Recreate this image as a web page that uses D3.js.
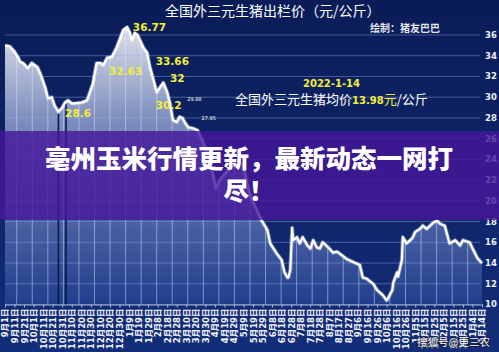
<!DOCTYPE html>
<html><head><meta charset="utf-8">
<script src="https://cdn.jsdelivr.net/npm/d3@7"></script>
<style>body{margin:0;background:#0c1f5c;}svg{display:block}</style>
</head><body><svg id="c" width="499" height="352"></svg>
<script>
// ---- data ----
const dates = ["2020-09-01","2020-09-06","2020-09-11","2020-09-15","2020-09-17","2020-09-20","2020-09-25","2020-09-29","2020-10-05","2020-10-08","2020-10-13","2020-10-16","2020-10-20","2020-10-23","2020-10-27","2020-10-31","2020-11-03","2020-11-06","2020-11-10","2020-11-13","2020-11-21","2020-11-26","2020-11-29","2020-12-02","2020-12-06","2020-12-10","2020-12-13","2020-12-17","2020-12-22","2020-12-27","2021-01-03","2021-01-07","2021-01-10","2021-01-12","2021-01-15","2021-01-18","2021-01-24","2021-01-28","2021-01-31","2021-02-03","2021-02-07","2021-02-10","2021-02-14","2021-02-18","2021-02-21","2021-02-24","2021-02-28","2021-03-03","2021-03-06","2021-03-09","2021-03-12","2021-03-17","2021-03-22","2021-03-27","2021-04-04","2021-04-10","2021-04-14","2021-04-22","2021-04-28","2021-05-08","2021-05-16","2021-05-21","2021-05-28","2021-06-03","2021-06-06","2021-06-13","2021-06-18","2021-06-21","2021-06-24","2021-06-25","2021-06-27","2021-06-29","2021-06-30","2021-07-04","2021-07-07","2021-07-10","2021-07-15","2021-07-18","2021-07-21","2021-07-25","2021-07-28","2021-07-31","2021-08-06","2021-08-11","2021-08-15","2021-08-18","2021-08-25","2021-09-01","2021-09-08","2021-09-11","2021-09-15","2021-09-22","2021-09-26","2021-10-02","2021-10-06","2021-10-07","2021-10-12","2021-10-13","2021-10-17","2021-10-18","2021-10-22","2021-10-23","2021-10-27","2021-11-02","2021-11-05","2021-11-10","2021-11-13","2021-11-17","2021-11-24","2021-11-28","2021-12-01","2021-12-06","2021-12-11","2021-12-17","2021-12-22","2021-12-25","2022-01-01","2022-01-09","2022-01-14"];
const prices = [35.0,34.9,34.4,33.8,33.4,33.3,32.8,33.3,32.9,32.3,31.0,29.9,30.0,29.2,28.6,29.0,29.5,29.7,29.4,29.4,29.5,29.7,30.5,31.3,33.3,33.3,33.1,33.8,33.9,34.8,36.5,36.77,36.2,35.5,36.2,36.0,34.8,34.3,32.9,31.9,30.5,30.9,31.4,30.5,29.4,27.8,27.6,28.1,28.0,27.5,27.1,27.0,26.8,25.8,23.9,21.2,22.0,22.9,23.4,23.6,20.5,19.5,18.1,17.2,15.9,14.9,14.3,13.1,12.6,12.6,13.3,17.4,16.2,16.5,15.9,16.5,15.7,15.4,16.2,15.5,15.4,16.0,15.5,15.0,15.1,14.9,14.4,14.1,13.8,12.6,12.5,12.0,11.4,10.9,10.4,10.5,11.4,12.1,13.1,12.7,14.3,16.5,15.9,16.4,17.0,17.3,17.6,17.3,17.9,18.1,17.8,17.6,15.9,16.2,15.7,16.2,16.0,14.5,13.98];
const tickDates = ["2020-09-01","2020-09-11","2020-09-21","2020-10-01","2020-10-11","2020-10-21","2020-10-31","2020-11-10","2020-11-20","2020-11-30","2020-12-10","2020-12-20","2020-12-30","2021-01-09","2021-01-19","2021-01-29","2021-02-08","2021-02-18","2021-02-28","2021-03-10","2021-03-20","2021-03-30","2021-04-09","2021-04-19","2021-04-29","2021-05-09","2021-05-19","2021-05-29","2021-06-08","2021-06-18","2021-06-28","2021-07-08","2021-07-18","2021-07-28","2021-08-07","2021-08-17","2021-08-27","2021-09-06","2021-09-16","2021-09-26","2021-10-06","2021-10-16","2021-10-26","2021-11-05","2021-11-15","2021-11-25","2021-12-05","2021-12-15","2021-12-25","2022-01-04","2022-01-14"];
const yTicks = [10,12,14,16,18,20,22,24,26,28,30,32,34,36];
const bigLabels = ["36.77","32.63","28.6","33.66","32","30.2"];
const bigLabelDates = ["2021-01-13","2020-12-19","2020-11-03","2021-02-06","2021-02-21","2021-02-06"];
const bigLabelValues = [36.4,32.1,28.07,33.1,31.45,28.9];
const smallLabels = ["29.88","27.95"];
const smallLabelDates = ["2021-03-11","2021-03-26"];
const smallLabelValues = [29.6,27.8];
const dropDates = ["2020-10-27","2020-11-04"];
const title = "全国外三元生猪出栏价（元/公斤）";
const author = "绘制：猪友巴巴";
const noteDate = "2022-1-14";
const notePrefix = "全国外三元生猪均价";
const noteValue = "13.98";
const banner1 = "亳州玉米行情更新，最新动态一网打";
const banner2 = "尽！";
const watermark = "搜狐号@更三农";

// ---- chart ----
const parse = d3.utcParse("%Y-%m-%d");
const svg = d3.select("#c");
const W = 499, H = 352;
const x = d3.scaleUtc().domain([parse(tickDates[0]), parse(tickDates[tickDates.length-1])]).range([5, 482]);
const y = d3.scaleLinear().domain([10, 36]).range([304.5, 35]);
const data = dates.map((d,i)=>({d:parse(d), v:prices[i]}));

const defs = svg.append("defs");
const bg = defs.append("linearGradient").attr("id","bg").attr("x1",0).attr("y1",0).attr("x2",0).attr("y2",1);
bg.append("stop").attr("offset",0).attr("stop-color","#0a1c57");
bg.append("stop").attr("offset",1).attr("stop-color","#132d78");
const ag = defs.append("linearGradient").attr("id","ag").attr("gradientUnits","userSpaceOnUse")
  .attr("x1",0).attr("y1",28).attr("x2",0).attr("y2",304);
ag.append("stop").attr("offset",0).attr("stop-color","#dcdfe9");
ag.append("stop").attr("offset",0.33).attr("stop-color","#7d8dbd");
ag.append("stop").attr("offset",1).attr("stop-color","#223f8e");

svg.append("rect").attr("width",W).attr("height",H).attr("fill","url(#bg)");

const area = d3.area().x(d=>x(d.d)).y0(y(10)).y1(d=>y(d.v));
const line = d3.line().x(d=>x(d.d)).y(d=>y(d.v));

defs.append("clipPath").attr("id","ac").append("path").attr("d", area(data));

svg.append("path").attr("d", area(data)).attr("fill","url(#ag)");

// vertical grid inside area
const gridDates = d3.range(0, 31).map(k => d3.utcHour.offset(parse(tickDates[0]), Math.round((12.3 + 16.3*k)*24)));
svg.append("g").attr("clip-path","url(#ac)").selectAll("line").data(gridDates).join("line")
  .attr("x1",d=>x(d)).attr("x2",d=>x(d)).attr("y1",20).attr("y2",y(10))
  .attr("stroke","rgba(235,240,255,0.45)").attr("stroke-width",1);

// horizontal grid
svg.append("g").selectAll("line").data(yTicks).join("line")
  .attr("x1",5).attr("x2",480).attr("y1",d=>y(d)).attr("y2",d=>y(d))
  .attr("stroke","rgba(150,175,235,0.42)").attr("stroke-width",1);

// dark drop lines
svg.append("g").selectAll("line").data(dropDates).join("line")
  .attr("x1",d=>x(parse(d))).attr("x2",d=>x(parse(d)))
  .attr("y1",d=>{const dd=parse(d);const i=d3.bisector(p=>p.d).left(data,dd);const a=data[Math.max(0,i-1)],b=data[i];const t=(dd-a.d)/((b.d-a.d)||1);return y(a.v+(b.v-a.v)*t)+2;})
  .attr("y2",y(10)).attr("stroke","#0b1a4e").attr("stroke-width",1.6);

// price line
svg.append("path").attr("d", line(data)).attr("fill","none").attr("stroke","rgba(255,255,255,0.35)").attr("stroke-width",4).attr("stroke-linejoin","round");
svg.append("path").attr("d", line(data)).attr("fill","none").attr("stroke","#ffffff").attr("stroke-width",2.2).attr("stroke-linejoin","round");

// x axis
const fmt = d3.utcFormat("%-m月%-d日");
const xa = svg.append("g").attr("transform",`translate(0,${y(10)})`)
  .call(d3.axisBottom(x).tickValues(tickDates.map(parse)).tickFormat(fmt).tickSize(3).tickSizeOuter(0));
xa.select(".domain").attr("stroke","#aab6d6");
xa.selectAll(".tick line").attr("stroke","#aab6d6");
xa.selectAll(".tick text").attr("transform","rotate(-90)").attr("text-anchor","end")
  .attr("x",-4).attr("y",0).attr("dy","0.35em")
  .attr("fill","#f2f4fa").attr("font-size","8.5px").attr("font-weight","bold")
  .attr("font-family","'DejaVu Sans','Noto Sans CJK SC',sans-serif");

// y labels
svg.append("g").selectAll("text").data(yTicks).join("text")
  .attr("x",485).attr("y",d=>y(d)).attr("dy","0.35em")
  .attr("fill","#eef1f8").attr("font-size","8.5px").attr("font-weight","bold")
  .attr("font-family","'DejaVu Sans',sans-serif").text(d=>d);

// yellow labels
svg.append("g").selectAll("text").data(bigLabels).join("text")
  .attr("x",(d,i)=>x(parse(bigLabelDates[i]))).attr("y",(d,i)=>y(bigLabelValues[i]))
  .attr("fill","#f2ee3a").attr("font-size","10.5px").attr("font-weight","bold")
  .attr("font-family","'DejaVu Sans',sans-serif").text(d=>d);
svg.append("g").selectAll("text").data(smallLabels).join("text")
  .attr("x",(d,i)=>x(parse(smallLabelDates[i]))).attr("y",(d,i)=>y(smallLabelValues[i]))
  .attr("fill","#ffffff").attr("font-size","5px")
  .attr("font-family","'DejaVu Sans',sans-serif").text(d=>d);

// titles
svg.append("text").attr("x",165).attr("y",16).attr("fill","#ffffff").attr("font-size","14px")
  .attr("font-family","'Noto Sans CJK SC',sans-serif").text(title);
svg.append("text").attr("x",370).attr("y",32).attr("fill","#e6e8f0").attr("font-size","10px").attr("font-weight","bold")
  .attr("font-family","'Noto Sans CJK SC',sans-serif").text(author);
svg.append("text").attr("x",303).attr("y",87).attr("fill","#f2ee3a").attr("font-size","10px").attr("font-weight","bold")
  .attr("font-family","'DejaVu Sans',sans-serif").text(noteDate);
const nt = svg.append("text").attr("x",235).attr("y",104).attr("font-size","13px").attr("fill","#ffffff")
  .attr("font-family","'Noto Sans CJK SC',sans-serif");
nt.append("tspan").text(notePrefix);
nt.append("tspan").attr("fill","#f2ee3a").attr("font-weight","bold").attr("font-size","10px").attr("font-family","'DejaVu Sans',sans-serif").text(noteValue);
nt.append("tspan").attr("fill","#f2ee3a").text("元");
nt.append("tspan").text("/公斤");

// banner overlay
svg.append("rect").attr("x",0).attr("y",131).attr("width",W).attr("height",89)
  .attr("fill","rgb(70,22,155)").attr("opacity",0.8);
svg.append("text").attr("x",249).attr("y",168).attr("text-anchor","middle").attr("fill","#ffffff")
  .attr("font-size","25.5px").attr("font-weight","900").attr("font-family","'Noto Sans CJK SC',sans-serif").text(banner1);
svg.append("text").attr("x",249).attr("y",200).attr("text-anchor","middle").attr("fill","#ffffff")
  .attr("font-size","25.5px").attr("font-weight","900").attr("font-family","'Noto Sans CJK SC',sans-serif").text(banner2);

// watermark
svg.append("text").attr("x",417).attr("y",346).attr("fill","#ffffff").attr("font-size","10.5px")
  .attr("stroke","rgba(20,20,40,0.6)").attr("stroke-width",2).attr("paint-order","stroke")
  .attr("font-family","'Noto Sans CJK SC',sans-serif").text(watermark);
</script></body></html>
